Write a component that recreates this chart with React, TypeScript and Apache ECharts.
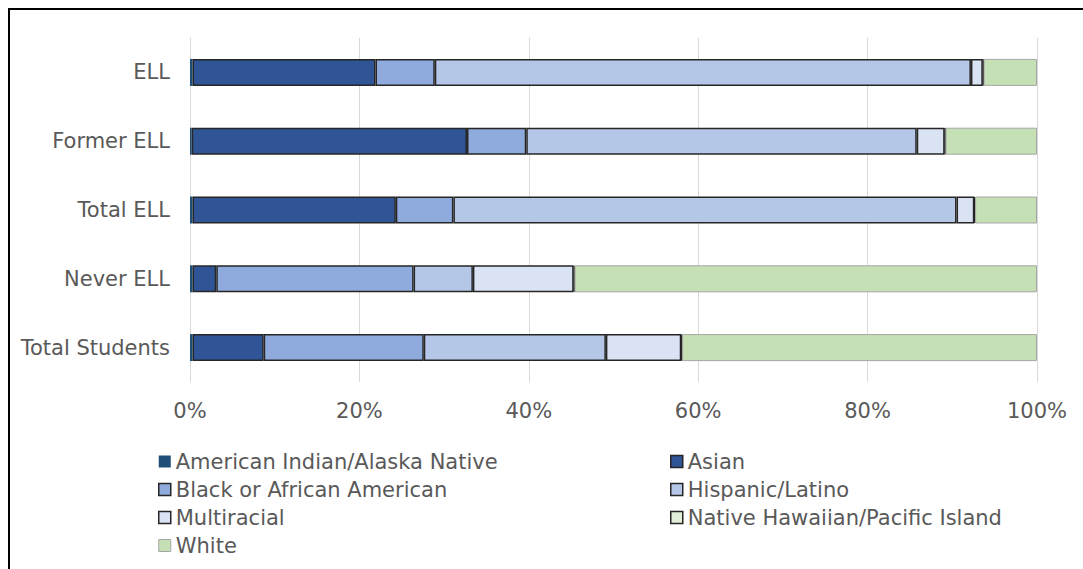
import React, { useEffect, useRef } from "react";
import * as echarts from "echarts";

const categories = ["ELL", "Former ELL", "Total ELL", "Never ELL", "Total Students"];
const seriesNames = [
  "American Indian/Alaska Native",
  "Asian",
  "Black or African American",
  "Hispanic/Latino",
  "Multiracial",
  "Native Hawaiian/Pacific Island",
  "White",
];
const americanIndian = [0.3, 0.2, 0.3, 0.3, 0.3];
const asian = [21.6, 32.5, 24.0, 2.8, 8.4];
const black = [7.0, 7.0, 6.8, 23.3, 18.9];
const hispanic = [63.3, 46.1, 59.4, 7.0, 21.5];
const multiracial = [1.4, 3.3, 2.1, 11.9, 8.9];
const nativeHawaiian = [0.1, 0.1, 0.1, 0.1, 0.1];
const white = [6.3, 10.8, 7.3, 54.6, 41.9];
const xTicks = [0, 20, 40, 60, 80, 100];

const values = [americanIndian, asian, black, hispanic, multiracial, nativeHawaiian, white];
const colors = ["#1F4E79", "#2F5597", "#8FAADC", "#B4C7E7", "#DAE3F3", "#E2F0D9", "#C5E0B4"];
const borderColors = ["#1F4E79", "#262626", "#262626", "#262626", "#262626", "#262626", "#A6A6A6"];
const borderWidths = [0, 1.5, 1.5, 1.5, 1.5, 1.5, 1];

const FONT = "DejaVu Sans";
const TEXT = "#595959";

export default function App() {
  const ref = useRef<HTMLDivElement>(null);
  useEffect(() => {
    if (!ref.current) return;
    const chart = echarts.init(ref.current, null, { renderer: "svg" });
    const legendItem = (i: number) => ({
      name: seriesNames[i],
      itemStyle: { color: colors[i], borderColor: borderColors[i], borderWidth: borderWidths[i] },
    });
    const legendCommon = {
      orient: "vertical",
      itemWidth: 12,
      itemHeight: 12,
      itemGap: 7,
      padding: 0,
      icon: "rect",
      selectedMode: false,
      textStyle: { fontFamily: FONT, fontSize: 21, color: TEXT, lineHeight: 21 },
    };
    chart.setOption({
      animation: false,
      backgroundColor: "#ffffff",
      grid: { left: 190, right: 46, top: 38, height: 344, containLabel: false },
      xAxis: {
        type: "value",
        min: 0,
        max: 100,
        interval: 20,
        axisLine: { show: false },
        axisTick: { show: false },
        splitLine: { show: true, lineStyle: { color: "#D9D9D9", width: 1 } },
        axisLabel: {
          formatter: (v: number) => (xTicks.includes(v) ? v + "%" : ""),
          fontFamily: FONT,
          fontSize: 21,
          color: TEXT,
          margin: 18,
        },
      },
      yAxis: {
        type: "category",
        inverse: true,
        data: categories,
        axisLine: { show: false },
        axisTick: { show: false },
        axisLabel: { fontFamily: FONT, fontSize: 21, color: TEXT, margin: 20 },
      },
      legend: [
        { ...legendCommon, left: 158, top: 451, data: [0, 2, 4, 6].map(legendItem) },
        { ...legendCommon, left: 670, top: 451, data: [1, 3, 5].map(legendItem) },
      ],
      graphic: [
        {
          type: "rect",
          shape: { x: 9, y: 9, width: 1100, height: 600 },
          style: { fill: "none", stroke: "#000000", lineWidth: 2 },
          silent: true,
        },
      ],
      series: seriesNames.map((name, i) => ({
        name,
        type: "bar",
        stack: "total",
        barWidth: 27,
        data: values[i],
        itemStyle: { color: colors[i], borderColor: borderColors[i], borderWidth: borderWidths[i] },
      })),
    });
    return () => chart.dispose();
  }, []);
  return (
    <div
      ref={ref}
      style={{ position: "fixed", left: 0, top: 0, width: 1083, height: 569, background: "#fff" }}
    />
  );
}
